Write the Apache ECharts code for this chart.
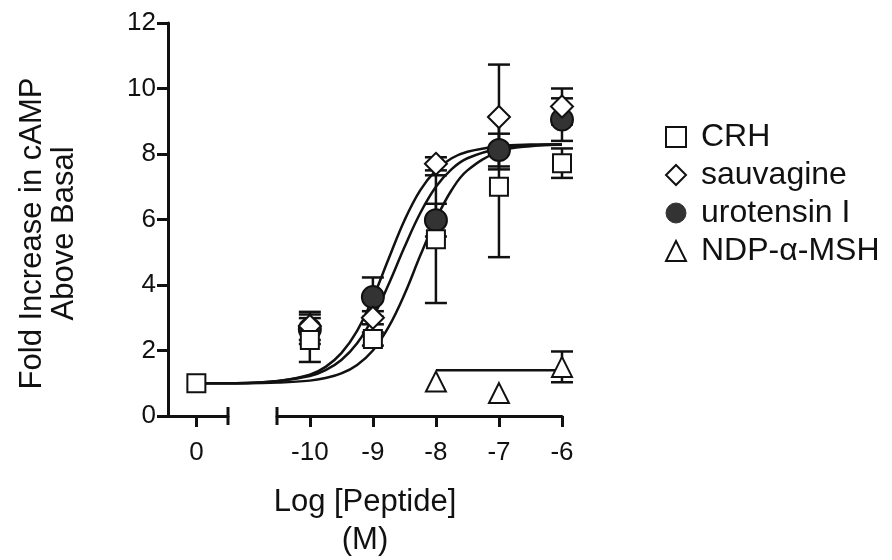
<!DOCTYPE html>
<html>
<head>
<meta charset="utf-8">
<title>cAMP dose response</title>
<script src="https://cdn.jsdelivr.net/npm/echarts@6.0.0/dist/echarts.min.js"></script>
<style>
  html, body { margin: 0; padding: 0; background: #fff; }
  #main { width: 892px; height: 560px; }
</style>
</head>
<body>
<div id="main"></div>
<script type="text/javascript">
// where the "0" (basal) dose sits on the log scale
const basalPos = -11.8;
const tickPos = [basalPos, -10, -9, -8, -7, -6];

// measured points: log dose, mean, s.e.m.
const doses = [-10, -9, -8, -7, -6];
const crhMean = [2.32, 2.35, 5.4, 7.0, 7.72];
const crhErr = [0.67, 0.2, 1.95, 2.15, 0.45];
const sauvMean = [2.75, 3.0, 7.7, 9.13, 9.45];
const sauvErr = [0.43, 0.2, 0.2, 1.6, 0.55];
const uroMean = [2.65, 3.63, 5.98, 8.12, 9.05];
const uroErr = [0.45, 0.6, 0.5, 0.5, 0.65];
const basalMean = 1.0;

const ndpDoses = [-8, -7, -6];
const ndpMean = [1.05, 0.7, 1.5];
const ndpErr = [0, 0, 0.47];

// fitted curves
const curveX = [-11.8, -11, -10.5, -10, -9.75, -9.5, -9.25, -9, -8.75, -8.5, -8.25, -8, -7.75, -7.5, -7, -6.5, -6];
const sauvCurve = [1.0, 1.01, 1.07, 1.26, 1.5, 1.92, 2.6, 3.6, 4.8, 5.97, 6.89, 7.5, 7.87, 8.07, 8.24, 8.29, 8.3];
const uroCurve = [1.0, 1.01, 1.07, 1.22, 1.4, 1.71, 2.22, 3.0, 4.02, 5.15, 6.19, 7.0, 7.54, 7.87, 8.17, 8.26, 8.29];
const crhCurve = [1.0, 1.0, 1.02, 1.08, 1.16, 1.3, 1.56, 2.0, 2.72, 3.71, 4.89, 6.0, 6.9, 7.5, 8.07, 8.24, 8.28];
const ndpFitX = [-8, -6];
const ndpFit = [1.4, 1.4];

const ink = '#111';
const font = "'Liberation Sans', Arial, sans-serif";

const zip = (xs, ys) => xs.map((x, i) => [x, ys[i]]);
const errData = (xs, m, e) => xs.map((x, i) => [x, m[i] - e[i], m[i] + e[i]]).filter(d => d[2] > d[1]);

// error bar with caps, drawn through the axis scales
function errorSeries(data) {
  return {
    type: 'custom',
    xAxisIndex: 0, yAxisIndex: 0,
    clip: false,
    silent: true,
    z: 3,
    data: data,
    renderItem: (params, api) => {
      const top = api.coord([api.value(0), api.value(2)]);
      const bot = api.coord([api.value(0), api.value(1)]);
      const w = 11;
      const style = { stroke: ink, lineWidth: 2.5 };
      return {
        type: 'group',
        children: [
          { type: 'line', shape: { x1: top[0], y1: top[1], x2: bot[0], y2: bot[1] }, style: style },
          { type: 'line', shape: { x1: top[0] - w, y1: top[1], x2: top[0] + w, y2: top[1] }, style: style },
          { type: 'line', shape: { x1: bot[0] - w, y1: bot[1], x2: bot[0] + w, y2: bot[1] }, style: style }
        ]
      };
    }
  };
}

function curveSeries(data) {
  return {
    type: 'line',
    data: data,
    smooth: 0.4,
    showSymbol: false,
    silent: true,
    clip: false,
    z: 2,
    lineStyle: { color: ink, width: 2.5 }
  };
}

function markerSeries(name, symbol, size, data, fill) {
  return {
    name: name,
    type: 'scatter',
    symbol: symbol,
    symbolSize: size,
    clip: false,
    z: 5,
    data: data,
    itemStyle: { color: fill, borderColor: ink, borderWidth: 2, opacity: 1 }
  };
}

const segAxis = {
  type: 'value',
  min: 0, max: 1,
  axisTick: { show: false },
  axisLabel: { show: false },
  splitLine: { show: false }
};

let myChart = echarts.init(document.getElementById('main'));
myChart.setOption({
  animation: false,
  backgroundColor: '#fff',
  textStyle: { fontFamily: font, color: ink },
  grid: [
    { left: 168, top: 23, width: 394, height: 393, outerBoundsMode: 'none' },
    { left: 168, top: 23, width: 60, height: 393, outerBoundsMode: 'none' },
    { left: 277, top: 23, width: 285, height: 393, outerBoundsMode: 'none' }
  ],
  legend: {
    orient: 'vertical',
    left: 660,
    top: 116,
    itemWidth: 20,
    itemHeight: 20,
    itemGap: 6,
    selectedMode: false,
    textStyle: { fontSize: 32, lineHeight: 32, color: ink, fontFamily: font, padding: [0, 0, 0, 10] },
    data: [
      { name: 'CRH', icon: 'rect', itemStyle: { color: '#fff', borderColor: ink, borderWidth: 2 } },
      { name: 'sauvagine', icon: 'diamond', itemStyle: { color: '#fff', borderColor: ink, borderWidth: 2 } },
      { name: 'urotensin I', icon: 'circle', itemStyle: { color: '#333', borderColor: '#333', borderWidth: 1 } },
      { name: 'NDP-α-MSH', icon: 'triangle', itemStyle: { color: '#fff', borderColor: ink, borderWidth: 2 } }
    ]
  },
  xAxis: [
    {
      gridIndex: 0,
      type: 'value',
      min: -12.25,
      max: -6,
      axisLine: { show: false },
      splitLine: { show: false },
      axisTick: { customValues: tickPos, length: 11, lineStyle: { color: ink, width: 3 } },
      axisLabel: {
        customValues: tickPos,
        fontSize: 26,
        margin: 24,
        color: ink,
        formatter: v => (Math.abs(v - basalPos) < 0.01 ? '0' : String(v))
      },
      name: 'Log [Peptide]\n(M)',
      nameLocation: 'middle',
      nameGap: 67,
      nameTextStyle: { fontSize: 31, lineHeight: 38, color: ink }
    },
    Object.assign({ gridIndex: 1, axisLine: { onZero: false, symbol: ['none', 'rect'], symbolSize: [18, 3], lineStyle: { color: ink, width: 3 } } }, segAxis),
    Object.assign({ gridIndex: 2, axisLine: { onZero: false, symbol: ['rect', 'none'], symbolSize: [18, 3], lineStyle: { color: ink, width: 3 } } }, segAxis)
  ],
  yAxis: [
    {
      gridIndex: 0,
      type: 'value',
      min: 0,
      max: 12,
      interval: 2,
      splitLine: { show: false },
      axisLine: { show: true, lineStyle: { color: ink, width: 3 } },
      axisTick: { length: 11, lineStyle: { color: ink, width: 3 } },
      axisLabel: { fontSize: 26, margin: 12, color: ink },
      name: 'Fold Increase in cAMP\nAbove Basal',
      nameLocation: 'middle',
      nameRotate: 90,
      nameGap: 88,
      nameTextStyle: { fontSize: 31, lineHeight: 32, color: ink, padding: [0, 28, 0, 0] }
    },
    { gridIndex: 1, type: 'value', show: false },
    { gridIndex: 2, type: 'value', show: false }
  ],
  series: [
    curveSeries(zip(curveX, sauvCurve)),
    curveSeries(zip(curveX, uroCurve)),
    curveSeries(zip(curveX, crhCurve)),
    curveSeries(zip(ndpFitX, ndpFit)),
    errorSeries(errData(doses, crhMean, crhErr)),
    errorSeries(errData(doses, sauvMean, sauvErr)),
    errorSeries(errData(doses, uroMean, uroErr)),
    errorSeries(errData(ndpDoses, ndpMean, ndpErr)),
    markerSeries('urotensin I', 'circle', 22, zip(doses, uroMean), '#333'),
    markerSeries('sauvagine', 'diamond', 22, zip(doses, sauvMean), '#fff'),
    markerSeries('CRH', 'rect', 18, [[basalPos, basalMean]].concat(zip(doses, crhMean)), '#fff'),
    markerSeries('NDP-α-MSH', 'triangle', 20, zip(ndpDoses, ndpMean), '#fff')
  ]
});
</script>
</body>
</html>
